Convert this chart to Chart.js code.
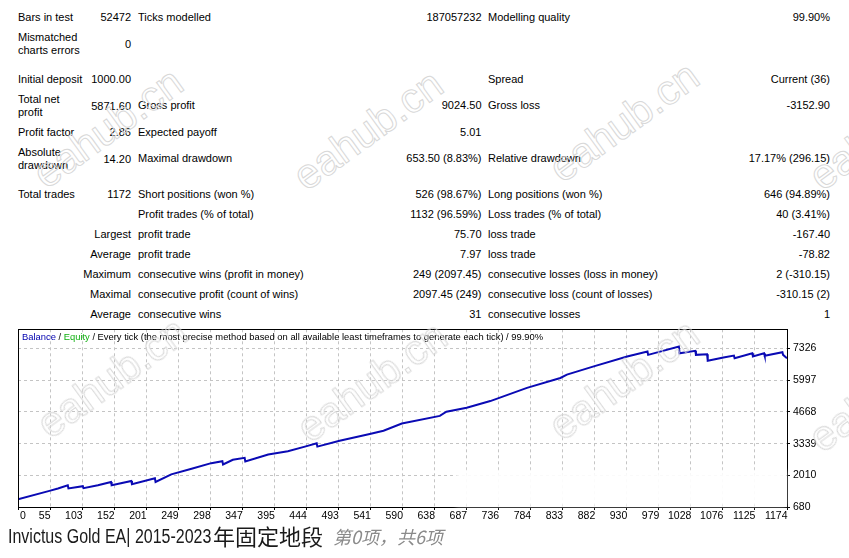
<!DOCTYPE html>
<html><head><meta charset="utf-8">
<script src="https://cdn.jsdelivr.net/npm/chart.js@4.4.1/dist/chart.umd.min.js"></script>
<style>
html,body{margin:0;padding:0;background:#fff;}
body{width:849px;height:558px;overflow:hidden;position:relative;font-family:'Liberation Sans',Arial,sans-serif;}
.t{position:absolute;font-size:11px;line-height:13px;color:#000;white-space:nowrap;}
.wm{position:absolute;font:42px 'Liberation Sans',Arial,sans-serif;color:transparent;-webkit-text-stroke:1px #d8d8d8;white-space:nowrap;transform:translate(-50%,-50%) rotate(-36deg);pointer-events:none;}
#c{position:absolute;left:0;top:320px;}
</style></head>
<body>
<div id="tbl"></div>
<canvas id="c" width="849" height="206"></canvas>
<div id="patch" style="position:absolute;left:456px;top:471px;width:330px;height:35px;background:rgba(255,255,255,0.93);filter:blur(2px);"></div>
<div id="leg" style="position:absolute;left:22px;top:331px;font:9.4px 'Liberation Sans',Arial,sans-serif;line-height:12px;white-space:nowrap;color:#000;"><span style="color:#0000b0">Balance</span> / <span style="color:#10b010">Equity</span> / Every tick (the most precise method based on all available least timeframes to generate each tick) / 99.90%</div>
<div id="wms"></div>
<div style="position:absolute;left:8px;top:525.8px;font:20px 'Liberation Sans',Arial,sans-serif;line-height:20px;color:#1a1a1a;white-space:nowrap;transform:scaleX(0.8);transform-origin:left top;">Invictus Gold EA| 2015-2023</div>
<div style="position:absolute;left:213px;top:523.5px;font:22px 'Noto Sans CJK SC',sans-serif;line-height:22px;color:#1a1a1a;white-space:nowrap;">年固定地段</div>
<div style="position:absolute;left:333px;top:526.5px;font:italic 18px 'Noto Sans CJK SC',sans-serif;line-height:18px;color:#8a8a8a;white-space:nowrap;">第0项，共6项</div>
<script>
// ---- report table text ----
const tableRows = [
  [17,   'Bars in test', '52472', 'Ticks modelled', '187057232', 'Modelling quality', '99.90%'],
  [43.5, 'Mismatched<br>charts errors', '0', '', '', '', ''],
  [79,   'Initial deposit', '1000.00', '', '', 'Spread', 'Current (36)'],
  [105.5,'Total net<br>profit', '5871.60', 'Gross profit', '9024.50', 'Gross loss', '-3152.90'],
  [132,  'Profit factor', '2.86', 'Expected payoff', '5.01', '', ''],
  [158.5,'Absolute<br>drawdown', '14.20', 'Maximal drawdown', '653.50 (8.83%)', 'Relative drawdown', '17.17% (296.15)'],
  [194,  'Total trades', '1172', 'Short positions (won %)', '526 (98.67%)', 'Long positions (won %)', '646 (94.89%)'],
  [214,  '', '', 'Profit trades (% of total)', '1132 (96.59%)', 'Loss trades (% of total)', '40 (3.41%)'],
  [234,  '', 'Largest', 'profit trade', '75.70', 'loss trade', '-167.40'],
  [254,  '', 'Average', 'profit trade', '7.97', 'loss trade', '-78.82'],
  [274,  '', 'Maximum', 'consecutive wins (profit in money)', '249 (2097.45)', 'consecutive losses (loss in money)', '2 (-310.15)'],
  [294,  '', 'Maximal', 'consecutive profit (count of wins)', '2097.45 (249)', 'consecutive loss (count of losses)', '-310.15 (2)'],
  [314,  '', 'Average', 'consecutive wins', '31', 'consecutive losses', '1']
];
const colLeft = [18, null, 138, null, 488, null];
const colRight = [null, 131, null, 481.5, null, 830];
const tbl = document.getElementById('tbl');
tableRows.forEach(r => {
  const y = r[0];
  for (let c = 0; c < 6; c++) {
    const txt = r[c + 1];
    if (!txt) continue;
    const d = document.createElement('div');
    d.className = 't';
    d.innerHTML = txt;
    const lines = txt.split('<br>').length;
    let yy = y;
    if (c === 1 && r[1].includes('<br>')) yy = y + 0.5;
    d.style.top = (yy - lines * 13 / 2) + 'px';
    if (colLeft[c] !== null) d.style.left = colLeft[c] + 'px';
    else { d.style.right = (849 - colRight[c]) + 'px'; d.style.textAlign = 'right'; }
    tbl.appendChild(d);
  }
});
// watermarks
const wmPos = [[108,128],[368,130],[624,122],[884,130],[112,378],[372,382],[624,380],[884,392]];
const wms = document.getElementById('wms');
wmPos.forEach(p => { const d = document.createElement('div'); d.className='wm'; d.textContent='eahub.cn'; d.style.left=p[0]+'px'; d.style.top=p[1]+'px'; wms.appendChild(d); });

// ---- chart data ----
const xTickLabels = ['0','55','103','152','201','249','298','347','395','444','493','541','590','638','687','736','784','833','882','930','979','1028','1076','1125','1174'];
const yTickValues = [680, 2010, 3339, 4668, 5997, 7326];
const tradeNo = [0,48,61,76,77,99,100,122,142,143,173,174,209,210,234,265,295,312,313,328,346,347,382,412,438,456,457,491,537,558,586,644,654,685,721,777,828,838,879,930,961,962,1009,1010,1034,1035,1052,1053,1077,1093,1094,1121,1122,1139,1140,1167,1168,1174];
const balance = [1000,1357,1457,1594,1457,1552,1469,1594,1731,1594,1772,1635,1884,1731,2050,2287,2520,2603,2466,2661,2744,2590,2881,3018,3213,3350,3213,3462,3741,3878,4181,4501,4679,4846,5124,5676,6092,6232,6578,6993,7200,7063,7408,7130,7230,7063,7088,6814,6951,7034,6922,7130,6993,7130,7022,7171,7063,6922];

const X_MAX = 1174, Y_MIN = 680, Y_MAX = 8135;
const tickFontFamily = "'Liberation Sans Narrow','Liberation Sans',Arial,sans-serif";

const framePlugin = {
  id: 'frame',
  afterDraw(chart) {
    const {ctx, chartArea: a, scales} = chart;
    ctx.save();
    ctx.setLineDash([]);
    ctx.strokeStyle = '#000'; ctx.lineWidth = 1;
    ctx.strokeRect(Math.round(a.left) + 0.5, Math.round(a.top) + 0.5, Math.round(a.right - a.left), Math.round(a.bottom - a.top));
    ctx.font = "10.5px " + tickFontFamily; ctx.fillStyle = '#000'; ctx.textBaseline = 'top';
    scales.x.ticks.forEach((t, i) => {
      const px = scales.x.getPixelForValue(t.value);
      if (i === 0) { ctx.textAlign = 'left'; ctx.fillText(xTickLabels[i], px + 2, a.bottom + 4); }
      else { ctx.textAlign = 'right'; ctx.fillText(xTickLabels[i], px + 0.5, a.bottom + 4); }
    });
    ctx.restore();
  }
};

const gridOpts = {color: '#c4c4c4', lineWidth: 1, drawTicks: true, tickLength: 3, tickColor: '#000', tickBorderDash: []};
new Chart(document.getElementById('c'), {
  type: 'line',
  data: {
    datasets: [{
      label: 'Balance',
      data: tradeNo.map((t, i) => ({x: t, y: balance[i]})),
      borderColor: '#0a0ab4',
      borderWidth: 2,
      pointRadius: 0,
      tension: 0,
      fill: false
    }]
  },
  options: {
    responsive: false,
    animation: false,
    devicePixelRatio: 1,
    layout: {padding: {left: 18, top: 7, right: 0, bottom: 0}},
    plugins: {legend: {display: false}, tooltip: {enabled: false}, title: {display: false}},
    scales: {
      x: {
        type: 'linear', min: 0, max: X_MAX,
        afterBuildTicks: s => { s.ticks = xTickLabels.map((l, i) => ({value: i * X_MAX / 24})); },
        afterFit: s => { s.height = 19; },
        ticks: {display: false},
        grid: gridOpts,
        border: {display: true, color: '#000', dash: [3, 3]}
      },
      y: {
        position: 'right', min: Y_MIN, max: Y_MAX,
        afterBuildTicks: s => { s.ticks = yTickValues.map(v => ({value: v})); },
        afterFit: s => { s.width = 62; },
        ticks: {font: {family: tickFontFamily, size: 10.5}, color: '#000', padding: 3, callback: v => String(v)},
        grid: gridOpts,
        border: {display: true, color: '#000', dash: [3, 3]}
      }
    }
  },
  plugins: [framePlugin]
});
</script>
</body></html>
